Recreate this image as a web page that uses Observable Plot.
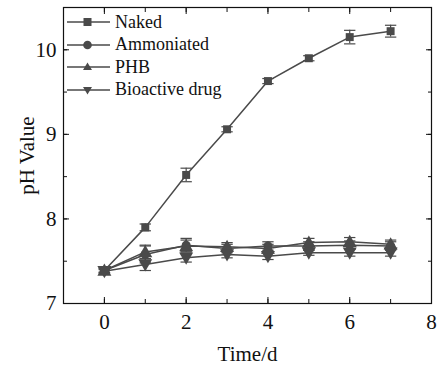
<!DOCTYPE html>
<html>
<head>
<meta charset="utf-8">
<script src="https://cdn.jsdelivr.net/npm/d3@7"></script>
<script src="https://cdn.jsdelivr.net/npm/@observablehq/plot@0.6"></script>
<style>
  html, body { margin: 0; padding: 0; background: #fff; font-family: "Liberation Serif", "Times New Roman", serif; }
  #wrap { position: relative; width: 438px; height: 365px; }
  #legend { position: absolute; left: 66px; top: 11px; font-family: "Liberation Serif", "Times New Roman", serif; font-size: 18px; color: #111; }
  #legend .item { display: flex; align-items: center; height: 22.5px; }
  #legend svg { margin-right: 5px; }
  svg text { font-family: "Liberation Serif", "Times New Roman", serif; }
</style>
</head>
<body>
<div id="wrap"><div id="legend"></div></div>
<script>
const days = [0, 1, 2, 3, 4, 5, 6, 7];
const seriesNames = ["Naked", "Ammoniated", "PHB", "Bioactive drug"];
const naked = [7.39, 7.90, 8.52, 9.06, 9.63, 9.90, 10.15, 10.22];
const nakedErr = [0.03, 0.04, 0.08, 0.03, 0.03, 0.03, 0.08, 0.07];
const ammoniated = [7.39, 7.58, 7.69, 7.65, 7.68, 7.68, 7.69, 7.68];
const ammoniatedErr = [0.02, 0.10, 0.08, 0.05, 0.05, 0.05, 0.05, 0.05];
const phb = [7.39, 7.61, 7.68, 7.67, 7.65, 7.72, 7.73, 7.70];
const phbErr = [0.02, 0.08, 0.07, 0.05, 0.05, 0.05, 0.05, 0.05];
const bio = [7.38, 7.46, 7.54, 7.58, 7.56, 7.60, 7.60, 7.60];
const bioErr = [0.02, 0.07, 0.05, 0.04, 0.04, 0.03, 0.04, 0.04];
const xTicks = [0, 2, 4, 6, 8];
const xMinor = [-1, 0, 1, 2, 3, 4, 5, 6, 7, 8];
const yTicks = [7, 8, 9, 10];
const yMinor = [7, 7.5, 8, 8.5, 9, 9.5, 10, 10.5];

const values = [naked, ammoniated, phb, bio];
const errs = [nakedErr, ammoniatedErr, phbErr, bioErr];

const color = "#4a4a4a";
const serif = "Liberation Serif, Times New Roman, serif";

const triDown = {
  draw(ctx, size) {
    const r = Math.sqrt(size / 1.3);
    ctx.moveTo(0, r);
    ctx.lineTo(r, -r * 0.75);
    ctx.lineTo(-r, -r * 0.75);
    ctx.closePath();
  }
};
const triUp = {
  draw(ctx, size) {
    const r = Math.sqrt(size / 1.3);
    ctx.moveTo(0, -r);
    ctx.lineTo(r, r * 0.75);
    ctx.lineTo(-r, r * 0.75);
    ctx.closePath();
  }
};
const cap = {
  draw(ctx, size) {
    const w = Math.sqrt(size);
    ctx.moveTo(-w, 0);
    ctx.lineTo(w, 0);
  }
};
const symbols = [d3.symbolSquare, d3.symbolCircle, triUp, triDown];

const data = [];
seriesNames.forEach((name, i) => {
  days.forEach((d, j) => {
    data.push({series: name, idx: i, day: d, v: values[i][j], e: errs[i][j]});
  });
});

const marks = [Plot.frame({stroke: "#111", strokeWidth: 1.2})];
seriesNames.forEach((name, i) => {
  const rows = data.filter(r => r.idx === i);
  marks.push(Plot.line(rows, {x: "day", y: "v", stroke: color, strokeWidth: 1.5}));
  marks.push(Plot.ruleX(rows, {x: "day", y1: r => r.v - r.e, y2: r => r.v + r.e, stroke: color, strokeWidth: 1.2}));
  marks.push(Plot.dot(rows, {x: "day", y: r => r.v - r.e, symbol: () => cap, r: 3.2, stroke: color, fill: "none", strokeWidth: 1.2}));
  marks.push(Plot.dot(rows, {x: "day", y: r => r.v + r.e, symbol: () => cap, r: 3.2, stroke: color, fill: "none", strokeWidth: 1.2}));
  marks.push(Plot.dot(rows, {x: "day", y: "v", symbol: () => symbols[i], r: 4.5, fill: color, stroke: "none"}));
});

const tickOpts = {text: null, label: null, stroke: "#111"};

marks.push(
  Plot.axisX(xMinor, {anchor: "bottom", tickSize: -4, ...tickOpts}),
  Plot.axisX(xTicks, {anchor: "bottom", tickSize: -6, ...tickOpts}),
  Plot.axisX(xMinor, {anchor: "top", tickSize: -4, ...tickOpts}),
  Plot.axisX(xTicks, {anchor: "top", tickSize: -6, ...tickOpts}),
  Plot.axisX(xTicks, {anchor: "bottom", tickSize: 0, tickPadding: 11, label: null, tickFormat: d => String(d), fontFamily: serif, fontSize: 21, fill: "#111"}),
  Plot.axisY(yMinor, {anchor: "left", tickSize: -4, ...tickOpts}),
  Plot.axisY(yTicks, {anchor: "left", tickSize: -6, ...tickOpts}),
  Plot.axisY(yMinor, {anchor: "right", tickSize: -4, ...tickOpts}),
  Plot.axisY(yTicks, {anchor: "right", tickSize: -6, ...tickOpts}),
  Plot.axisY(yTicks, {anchor: "left", tickSize: 0, tickPadding: 7, label: null, tickFormat: d => String(d), fontFamily: serif, fontSize: 21, fill: "#111"}),
  Plot.axisX({anchor: "bottom", ticks: [], label: "Time/d", labelAnchor: "center", labelArrow: "none", labelOffset: 57, fontSize: 21, fontFamily: serif, fill: "#111"}),
  Plot.axisY({anchor: "left", ticks: [], label: "pH Value", labelAnchor: "center", labelArrow: "none", labelOffset: 44, fontSize: 21, fontFamily: serif, fill: "#111"})
);

const chart = Plot.plot({
  width: 438,
  height: 365,
  marginLeft: 63,
  marginRight: 7,
  marginTop: 7,
  marginBottom: 62,
  style: {fontFamily: serif, background: "#fff", overflow: "visible"},
  x: {domain: [-1, 8]},
  y: {domain: [7, 10.5]},
  marks
});
document.getElementById("wrap").prepend(chart);

const legend = document.getElementById("legend");
const shapes = [
  '<rect x="17.5" y="2" width="8" height="8" fill="' + color + '"/>',
  '<circle cx="21.5" cy="6" r="4.3" fill="' + color + '"/>',
  '<path d="M21.5,1.5 L26,9 L17,9 Z" fill="' + color + '"/>',
  '<path d="M21.5,10.5 L26,3 L17,3 Z" fill="' + color + '"/>'
];
seriesNames.forEach((name, i) => {
  const item = document.createElement("div");
  item.className = "item";
  item.innerHTML = '<svg width="44" height="12"><line x1="1" y1="6" x2="44" y2="6" stroke="' + color + '" stroke-width="1.5"/>' + shapes[i] + '</svg><span>' + name + '</span>';
  legend.appendChild(item);
});
</script>
</body>
</html>
